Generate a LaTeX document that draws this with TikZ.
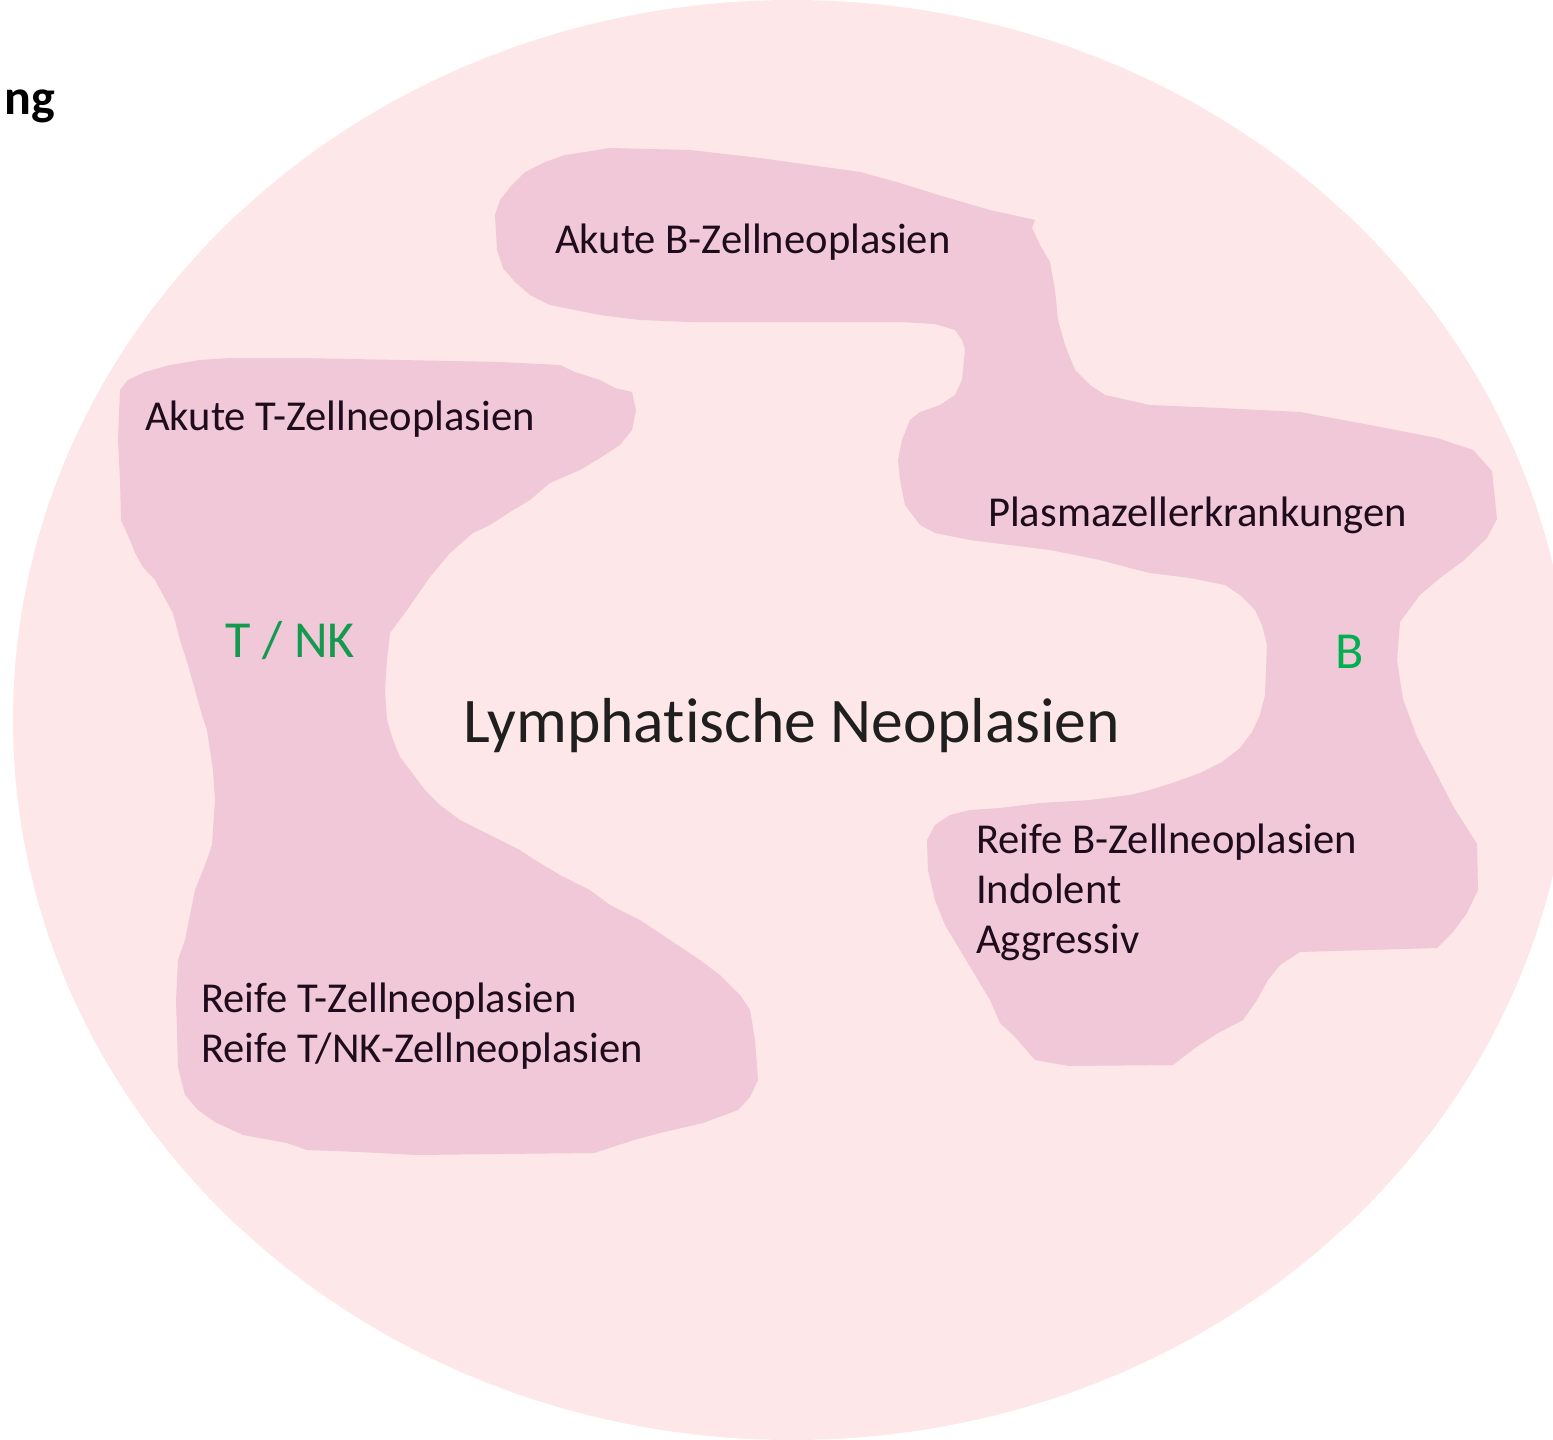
\documentclass[tikz,border=0pt]{standalone}
\usepackage{fontspec}
\setmainfont{Carlito}[Ligatures=CommonOff]
\definecolor{ellcol}{HTML}{FDE7E8}
\definecolor{blobcol}{HTML}{F0C8D8}
\definecolor{txtcol}{HTML}{1E0C1C}
\definecolor{tnkgreen}{HTML}{14994F}
\definecolor{bgreen}{HTML}{00B050}
\tikzset{
  lbl/.style={anchor=base west, inner sep=0pt, text=txtcol, font=\fontsize{42.6}{50}\selectfont},
  greenlbl/.style={anchor=base west, inner sep=0pt, font=\fontsize{52}{60}\selectfont},
  blob/.style={fill=blobcol, draw=none, line join=round}
}
\begin{document}
\begin{tikzpicture}[x=1pt,y=-1pt]
\useasboundingbox (0,0) rectangle (1553,1440);
\begin{scope}
\clip (0,0) rectangle (1553,1440);
\fill[ellcol] (792,720) ellipse [x radius=779pt, y radius=720pt];
\end{scope}

% right (B) blob
\path[blob] (495,215) -- (500,200) -- (512,185) -- (525,172) -- (545,162) -- (565,155) -- (585,152) -- (610,148) -- (690,150) -- (760,158) -- (810,165) -- (860,172) -- (900,183) -- (945,197) -- (990,210) -- (1035,220) -- (1032,228) -- (1040,245) -- (1050,262) -- (1055,290) -- (1058,320) -- (1065,345) -- (1075,370) -- (1090,385) -- (1105,395) -- (1150,405) -- (1220,408) -- (1300,412) -- (1370,425) -- (1437,438) -- (1473,450) -- (1492,471) -- (1497,519) -- (1487,538) -- (1463,561) -- (1440,578) -- (1420,595) -- (1400,622) -- (1397,660) -- (1403,699) -- (1417,737) -- (1437,775) -- (1453,806) -- (1477,844) -- (1478,890) -- (1467,913) -- (1453,932) -- (1437,948) -- (1300,952) -- (1280,965) -- (1268,980) -- (1257,1000) -- (1243,1020) -- (1218,1033) -- (1195,1048) -- (1173,1065) -- (1069,1066) -- (1035,1060) -- (1015,1037) -- (1000,1023) -- (990,1000) -- (975,975) -- (960,950) -- (945,925) -- (935,900) -- (928,870) -- (927,840) -- (935,825) -- (950,815) -- (970,810) -- (1000,808) -- (1040,803) -- (1090,800) -- (1130,795) -- (1150,790) -- (1175,782) -- (1200,773) -- (1222,762) -- (1240,748) -- (1252,732) -- (1260,715) -- (1265,695) -- (1266,670) -- (1267,645) -- (1262,625) -- (1255,610) -- (1240,595) -- (1225,585) -- (1190,578) -- (1150,573) -- (1130,568) -- (1100,560) -- (1050,550) -- (1010,545) -- (970,540) -- (935,533) -- (920,525) -- (905,505) -- (900,480) -- (898,460) -- (902,440) -- (910,420) -- (920,412) -- (940,405) -- (955,395) -- (962,380) -- (965,350) -- (962,340) -- (955,330) -- (935,324) -- (900,322) -- (850,322) -- (750,322) -- (690,322) -- (640,320) -- (600,315) -- (550,305) -- (530,295) -- (515,282) -- (503,268) -- (497,250) -- cycle;

% left (T/NK) blob
\path[blob] (120,390) -- (128,380) -- (145,372) -- (170,365) -- (200,360) -- (230,358) -- (300,358) -- (400,360) -- (500,362) -- (560,365) -- (575,372) -- (600,380) -- (615,388) -- (632,392) -- (636,410) -- (632,430) -- (620,445) -- (600,458) -- (580,470) -- (550,483) -- (530,500) -- (510,512) -- (490,525) -- (473,533) -- (450,553) -- (430,577) -- (407,610) -- (390,633) -- (387,660) -- (385,690) -- (387,720) -- (393,740) -- (400,757) -- (410,770) -- (425,790) -- (440,805) -- (460,820) -- (480,830) -- (500,840) -- (520,850) -- (535,860) -- (560,875) -- (590,890) -- (610,905) -- (640,920) -- (670,940) -- (700,960) -- (720,975) -- (740,995) -- (750,1010) -- (755,1040) -- (758,1080) -- (750,1097) -- (738,1110) -- (703,1123) -- (660,1133) -- (634,1140) -- (594,1153) -- (500,1154) -- (416,1155) -- (360,1152) -- (307,1150) -- (287,1143) -- (243,1135) -- (215,1122) -- (198,1110) -- (185,1095) -- (178,1067) -- (176,1000) -- (178,960) -- (185,940) -- (190,915) -- (195,890) -- (205,865) -- (212,845) -- (215,800) -- (213,770) -- (210,750) -- (207,730) -- (202,715) -- (195,690) -- (188,665) -- (180,640) -- (173,613) -- (162,593) -- (155,580) -- (143,567) -- (135,553) -- (130,540) -- (121,520) -- (120,480) -- (118,440) -- cycle;

% texts
\node[anchor=base west, inner sep=0pt, font=\fontsize{50}{58}\selectfont\bfseries] (ng) at (4,114) {ng};
\node[lbl] (akuteB) at (555,253) {Akute B-Zellneoplasien};
\node[lbl] (akuteT) at (145,430) {Akute T-Zellneoplasien};
\node[lbl] (plasma) at (988,526) {Plasmazellerkrankungen};
\node[greenlbl, text=tnkgreen] (tnk) at (225,657) {T / NK};
\node[greenlbl, text=bgreen] (bl) at (1335,668) {B};
\node[anchor=base west, inner sep=0pt, text=black!88, font=\fontsize{63.6}{70}\selectfont] (lymph) at (463,742) {Lymphatische Neoplasien};
\node[lbl] (reifeB1) at (976,853) {Reife B-Zellneoplasien};
\node[lbl] (reifeB2) at (976,903) {Indolent};
\node[lbl] (reifeB3) at (976,953) {Aggressiv};
\node[lbl] (reifeT1) at (201,1012) {Reife T-Zellneoplasien};
\node[lbl] (reifeT2) at (201,1062) {Reife T/NK-Zellneoplasien};
\end{tikzpicture}
\end{document}
